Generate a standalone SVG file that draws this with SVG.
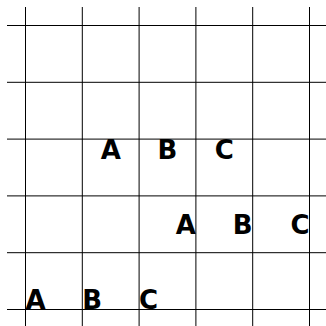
<svg xmlns="http://www.w3.org/2000/svg" width="326" height="326" viewBox="0 0 326 326">
<style>
.grid line{stroke:#000;stroke-width:1;}
text{font-family:"DejaVu Sans",sans-serif;font-weight:bold;font-size:26px;fill:#000;}
.r1{text-anchor:middle;}
.r2{text-anchor:end;}
.r3{text-anchor:start;}
</style>
<rect width="326" height="326" fill="#fff"/>
<g id="grid" class="grid">
<line x1="25.5" y1="7" x2="25.5" y2="326"/>
<line x1="82.3" y1="7" x2="82.3" y2="326"/>
<line x1="139.1" y1="7" x2="139.1" y2="326"/>
<line x1="195.9" y1="7" x2="195.9" y2="326"/>
<line x1="252.7" y1="7" x2="252.7" y2="326"/>
<line x1="309.5" y1="7" x2="309.5" y2="326"/>
<line x1="7" y1="25.5" x2="326" y2="25.5"/>
<line x1="7" y1="82.3" x2="326" y2="82.3"/>
<line x1="7" y1="139.1" x2="326" y2="139.1"/>
<line x1="7" y1="195.9" x2="326" y2="195.9"/>
<line x1="7" y1="252.7" x2="326" y2="252.7"/>
<line x1="7" y1="309.5" x2="326" y2="309.5"/>
</g>
<g id="row1">
<text class="r1" x="110.7" y="158.5">A</text>
<text class="r1" x="167.5" y="158.5">B</text>
<text class="r1" x="224.3" y="158.5">C</text>
</g>
<g id="row2">
<text class="r2" x="195.9" y="234">A</text>
<text class="r2" x="252.7" y="234">B</text>
<text class="r2" x="309.5" y="234">C</text>
</g>
<g id="row3">
<text class="r3" x="25.5" y="309">A</text>
<text class="r3" x="82.3" y="309">B</text>
<text class="r3" x="139.1" y="309">C</text>
</g>
</svg>
